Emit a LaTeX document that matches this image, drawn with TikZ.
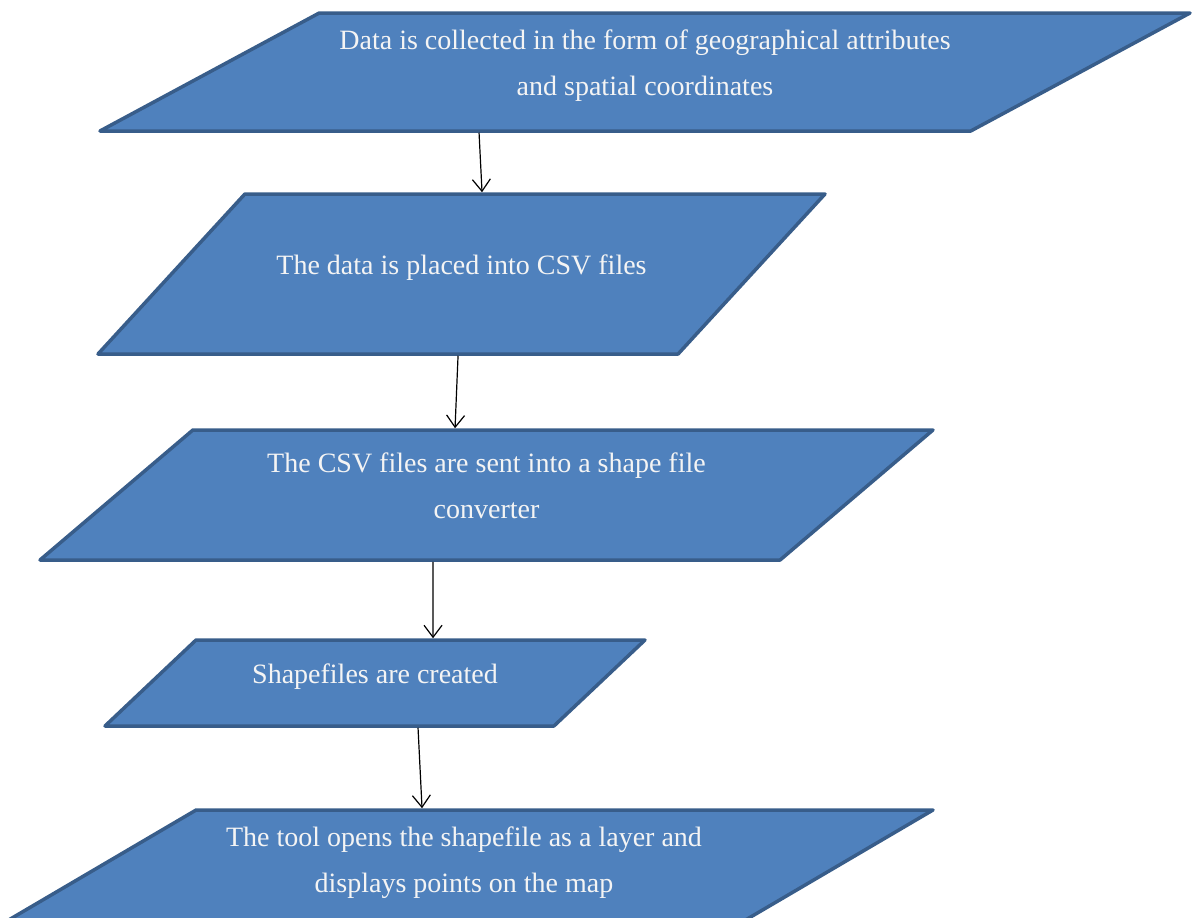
\documentclass[tikz,border=0pt]{standalone}
\usepackage{fontspec}
\setmainfont{Liberation Serif}
\usetikzlibrary{shapes.geometric, arrows.meta}
\definecolor{boxfill}{HTML}{4F81BD}
\definecolor{boxborder}{HTML}{385D8A}
\definecolor{boxtext}{HTML}{F4F4F4}
\tikzstyle{inputoutput} = [
    trapezium,
    trapezium stretches body=true,
    draw=boxborder,
    fill=boxfill,
    line width=3.5pt,
    line join=round,
    inner sep=0pt,
    text=boxtext,
    text depth=18pt,
    align=center,
    font=\fontsize{28}{46}\selectfont
]
\tikzstyle{arrow} = [line width=1.2pt,->,>={Straight Barb[length=12pt,width=18pt]}]

\begin{document}
\begin{tikzpicture}[x=1pt, y=-1pt]

\useasboundingbox (0,0) rectangle (1195,918);
\clip (0,0) rectangle (1195,918);

\node (collect) [inputoutput, minimum width=1090pt, minimum height=118pt,
    trapezium left angle=20.9, trapezium right angle=159.1] at (645,72)
{Data is collected in the form of geographical attributes\\and spatial coordinates};

\node (csv) [inputoutput, minimum width=727pt, minimum height=160pt,
    trapezium left angle=14.4, trapezium right angle=165.6] at (461.5,274)
{The data is placed into CSV files};

\node (convert) [inputoutput, minimum width=893pt, minimum height=130pt,
    trapezium left angle=28.7, trapezium right angle=151.3] at (486.5,495)
{The CSV files are sent into a shape file\\converter};

\node (shapes) [inputoutput, minimum width=540pt, minimum height=86pt,
    trapezium left angle=22.5, trapezium right angle=157.5] at (375,683)
{Shapefiles are created};

\node (layer) [inputoutput, minimum width=938pt, minimum height=118pt,
    trapezium left angle=22.6, trapezium right angle=157.4] at (464,869)
{The tool opens the shapefile as a layer and\\displays points on the map};

\draw [arrow] ([xshift=-166pt]collect.south) -- ([xshift=20.5pt]csv.north);
\draw [arrow] ([xshift=-3.5pt]csv.south) -- ([xshift=-31.5pt]convert.north);
\draw [arrow] ([xshift=-53.5pt]convert.south) -- ([xshift=58pt]shapes.north);
\draw [arrow] ([xshift=43pt]shapes.south) -- ([xshift=-42pt]layer.north);

\end{tikzpicture}
\end{document}
